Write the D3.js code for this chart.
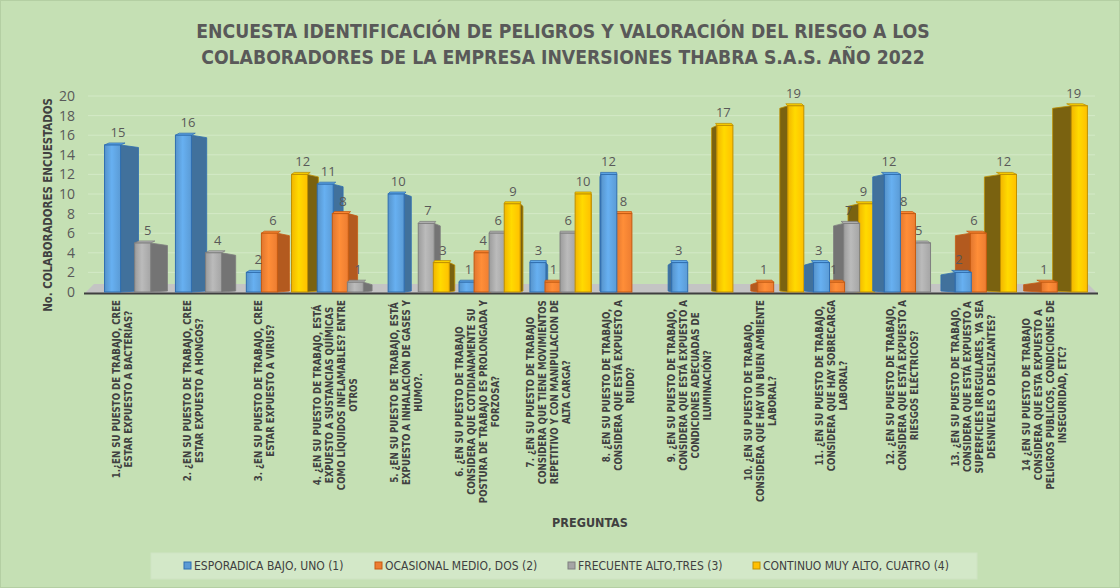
<!DOCTYPE html>
<html>
<head>
<meta charset="utf-8">
<script src="https://cdn.jsdelivr.net/npm/d3@7"></script>
<style>
  body { margin: 0; background: #c5e0b4; }
  svg text { font-family: "Liberation Sans Narrow", "DejaVu Sans Condensed", "Open Sans", sans-serif; }
</style>
</head>
<body>
<svg id="chart" width="1120" height="588"></svg>
<script>
//question labels, already broken in lines like the original
const categories = [
  ["1.¿EN SU PUESTO DE TRABAJO, CREE", "ESTAR EXPUESTO A BACTERIAS?"],
  ["2. ¿EN SU PUESTO DE TRABAJO, CREE", "ESTAR EXPUESTO A HONGOS?"],
  ["3. ¿EN SU PUESTO DE TRABAJO, CREE", "ESTAR EXPUESTO A VIRUS?"],
  ["4. ¿EN SU PUESTO DE TRABAJO, ESTÁ", "EXPUESTO A SUSTANCIAS QUÍMICAS", "COMO LÍQUIDOS INFLAMABLES? ENTRE", "OTROS"],
  ["5. ¿EN SU PUESTO DE TRABAJO, ESTÁ", "EXPUESTO A INHALACIÓN DE GASES Y", "HUMO?."],
  ["6. ¿EN SU PUESTO DE TRABAJO", "CONSIDERA QUE COTIDIANAMENTE SU", "POSTURA DE TRABAJO ES PROLONGADA Y", "FORZOSA?"],
  ["7.  ¿EN SU PUESTO DE TRABAJO", "CONSIDERA QUE TIENE MOVIMIENTOS", "REPETITIVO Y CON MANIPULACION DE", "ALTA CARGA?"],
  ["8. ¿EN SU PUESTO DE TRABAJO,", "CONSIDERA QUE ESTÁ EXPUESTO A", "RUIDO?"],
  ["9. ¿EN SU PUESTO DE TRABAJO,", "CONSIDERA QUE ESTÁ EXPUESTO A", "CONDICIONES ADECUADAS DE", "ILUMINACIÓN?"],
  ["10. ¿EN SU PUESTO DE TRABAJO,", "CONSIDERA QUE HAY UN BUEN AMBIENTE", "LABORAL?"],
  ["11. ¿EN SU PUESTO DE TRABAJO,", "CONSIDERA QUE HAY SOBRECARGA", "LABORAL?"],
  ["12. ¿EN SU PUESTO DE TRABAJO,", "CONSIDERA QUE ESTÁ EXPUESTO A", "RIESGOS ELÉCTRICOS?"],
  ["13. ¿EN SU PUESTO DE TRABAJO,", "CONSIDERA QUE ESTÁ EXPUESTO A", "SUPERFICIES IRREGULARES, YA SEA", "DESNIVELES O DESLIZANTES?"],
  ["14 ¿EN SU PUESTO DE TRABAJO", "CONSIDERA QUE ESTA EXPUESTO A", "PELIGROS PUBLICOS, CONDICIONES DE", "INSEGURIDAD, ETC?"]
]
const seriesNames = ["ESPORADICA BAJO, UNO (1)", "OCASIONAL MEDIO, DOS (2)", "FRECUENTE ALTO,TRES (3)", "CONTINUO MUY ALTO, CUATRO (4)"]
const esporadica = [15, 16, 2, 11, 10, 1, 3, 12, 3, 0, 3, 12, 2, 0]
const ocasional  = [0, 0, 6, 8, 0, 4, 1, 8, 0, 1, 1, 8, 6, 1]
const frecuente  = [5, 4, 0, 1, 7, 6, 6, 0, 0, 0, 7, 5, 0, 0]
const continuo   = [0, 0, 12, 0, 3, 9, 10, 0, 17, 19, 9, 0, 12, 19]
const yTicks = [0, 2, 4, 6, 8, 10, 12, 14, 16, 18, 20]
const titleLines = ["ENCUESTA IDENTIFICACIÓN DE PELIGROS Y VALORACIÓN DEL RIESGO A LOS",
  "COLABORADORES DE LA EMPRESA INVERSIONES THABRA S.A.S. AÑO 2022"]

const values = [esporadica, ocasional, frecuente, continuo]
//front / side colours per series
const fronts = ["#5b9bd5", "#ed7d31", "#a5a5a5", "#ffc000"]
const sides = ["#41719c", "#b35a1f", "#747474", "#7a6210"]
const strokes = ["#2f6eb0", "#c55a11", "#7f7f7f", "#bf9000"]

const svg = d3.select("#chart")
  , width = +svg.attr("width")
  , height = +svg.attr("height");

svg.append("rect").attr("x", 0.5).attr("y", 0.5).attr("width", width - 1).attr("height", height - 1)
  .attr("fill", "#c5e0b4").attr("stroke", "#b4cfa3");

//title
svg.append("g").selectAll("text").data(titleLines).enter().append("text")
  .attr("x", 563).attr("y", (d, i) => 38 + i * 26)
  .attr("text-anchor", "middle").attr("font-size", 19.2).attr("font-weight", "bold")
  .attr("fill", "#595959").text(d => d);

let x0 = d3.scaleBand().domain(d3.range(categories.length)).range([96, 1085]).paddingInner(0.15).paddingOuter(0.05)
let x1 = d3.scaleBand().domain(d3.range(4)).range([0, x0.bandwidth()])
let y = d3.scaleLinear().domain([0, 20]).range([292, 96])

//gridlines
svg.append("g").selectAll("line").data(yTicks.slice(1)).enter().append("line")
  .attr("x1", 88).attr("x2", 1095).attr("y1", d => y(d)).attr("y2", d => y(d))
  .attr("stroke", "#d3e9c6").attr("stroke-width", 1);

//y axis labels
let yAxis = svg.append("g").attr("transform", "translate(78,0)")
  .call(d3.axisLeft(y).tickValues(yTicks).tickSize(0).tickPadding(3))
yAxis.select(".domain").remove()
yAxis.selectAll("text").attr("font-size", 14).attr("fill", "#595959")
  .style("font-family", "'Open Sans', sans-serif")

svg.append("text").attr("transform", "translate(52,205) rotate(-90)")
  .attr("text-anchor", "middle").attr("font-size", 11.4).attr("font-weight", "bold")
  .attr("fill", "#404040").text("No. COLABORADORES ENCUESTADOS");

//floor
svg.append("path").attr("d", "M85,293 L1097,293 L1088,284 L94,284 Z").attr("fill", "#c4c4c4")
svg.append("line").attr("x1", 84).attr("x2", 1098).attr("y1", 293.5).attr("y2", 293.5)
  .attr("stroke", "#3f3f3f").attr("stroke-width", 2)

//front face gradients
let defs = svg.append("defs")
fronts.forEach((c, i) => {
  let g = defs.append("linearGradient").attr("id", "g" + i).attr("x1", "0").attr("x2", "1")
  g.append("stop").attr("offset", "0").attr("stop-color", d3.color(c).darker(0.15))
  g.append("stop").attr("offset", "0.45").attr("stop-color", d3.color(c).brighter(0.35))
  g.append("stop").attr("offset", "1").attr("stop-color", c)
})

//perspective: side face width depends on distance from the middle
const mid = 585, persp = 0.038, bw = 16
let bars = []
categories.forEach((c, ci) => {
  values.forEach((vals, si) => {
    let v = vals[ci]
    if (!v) return
    let xl = x0(ci) + x1(si) + 5
    let s = (mid - (xl + bw / 2)) * persp
    bars.push({ ci, si, v, xl, s })
  })
})
//left half: draw series in order, right half: reverse so the nearer side is on top
bars.sort((a, b) => a.ci - b.ci || (a.s >= 0 ? a.si - b.si : b.si - a.si))

let barG = svg.append("g")
bars.forEach(b => {
  let yt = y(b.v), yb = y(0)
  let g = barG.append("g")
  let xs = b.s >= 0 ? b.xl + bw : b.xl
  g.append("path")
    .attr("d", `M${xs},${yt} L${xs + b.s},${yt + 2.5} L${xs + b.s},${yb - 1} L${xs},${yb} Z`)
    .attr("fill", sides[b.si]).attr("stroke", strokes[b.si]).attr("stroke-width", 0.8)
  g.append("path")
    .attr("d", `M${b.xl},${yt} L${b.xl + bw},${yt} L${b.xl + bw + b.s * 0.25},${yt - 2} L${b.xl + b.s * 0.25},${yt - 2} Z`)
    .attr("fill", d3.color(fronts[b.si]).brighter(0.3)).attr("stroke", strokes[b.si]).attr("stroke-width", 0.8)
  g.append("rect").attr("x", b.xl).attr("y", yt).attr("width", bw).attr("height", yb - yt)
    .attr("fill", `url(#g${b.si})`).attr("stroke", strokes[b.si]).attr("stroke-width", 1)
})

//data labels
svg.append("g").selectAll("text").data(bars).enter().append("text")
  .attr("x", d => d.xl + bw / 2 + d.s * 0.3).attr("y", d => y(d.v) - 8)
  .attr("text-anchor", "middle").attr("font-size", 13).attr("fill", "#595959")
  .style("font-family", "'Open Sans', sans-serif")
  .text(d => d.v);

//category labels, rotated, block top-aligned under the axis
let catG = svg.append("g")
categories.forEach((lines, ci) => {
  let cx = x0(ci) + x0.bandwidth() / 2 - 7
  let t = catG.append("text").attr("font-size", 9.6).attr("font-weight", "bold").attr("fill", "#404040")
    .attr("text-anchor", "middle")
  lines.forEach((l, li) => {
    t.append("tspan").attr("x", 0).attr("dy", li ? 12 : 0).text(l)
  })
  let maxLen = d3.max(t.selectAll("tspan").nodes(), n => n.getComputedTextLength())
  let cy = 300 + maxLen / 2
  let off = (lines.length - 1) * 6 - 3.5
  t.attr("transform", `translate(${cx - off},${cy}) rotate(-90)`)
})

svg.append("text").attr("x", 590).attr("y", 527).attr("text-anchor", "middle")
  .attr("font-size", 12.5).attr("font-weight", "bold").attr("fill", "#404040").text("PREGUNTAS");

//legend
let lg = svg.append("g")
lg.append("rect").attr("x", 151).attr("y", 553).attr("width", 826).attr("height", 26)
  .attr("fill", "#d3e8c8").attr("stroke", "#cfe3c3")
const legX = [184, 375, 568, 753]
seriesNames.forEach((n, i) => {
  lg.append("rect").attr("x", legX[i]).attr("y", 562).attr("width", 7).attr("height", 7)
    .attr("fill", fronts[i]).attr("stroke", strokes[i]).attr("stroke-width", 1)
  lg.append("text").attr("x", legX[i] + 10).attr("y", 570).attr("font-size", 12)
    .attr("fill", "#404040").text(n)
})
</script>
</body>
</html>
